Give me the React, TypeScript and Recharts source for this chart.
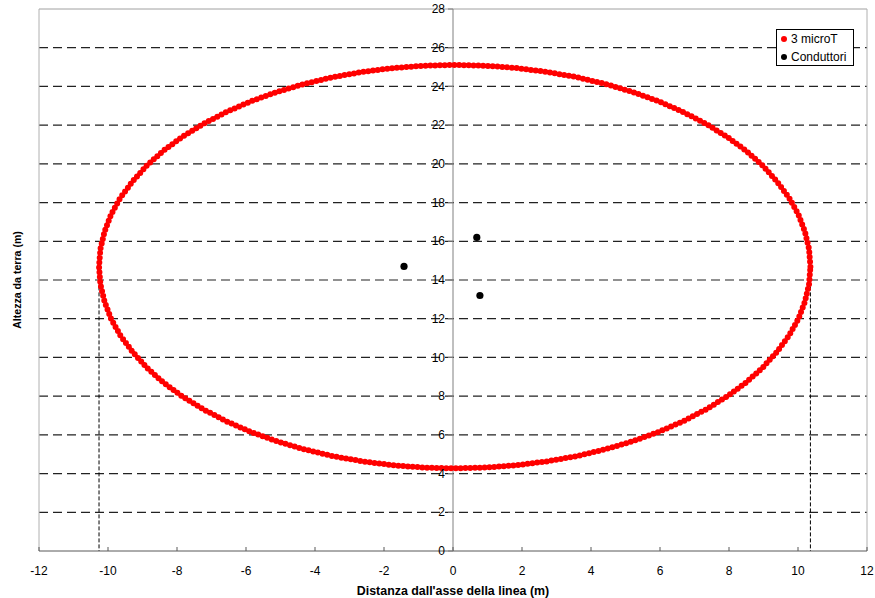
import React from 'react';
import { ScatterChart, Scatter, XAxis, YAxis, ReferenceLine } from 'recharts';

// ---- data ----
const xTicks = [-12, -10, -8, -6, -4, -2, 0, 2, 4, 6, 8, 10, 12];
const yTicks = [0, 2, 4, 6, 8, 10, 12, 14, 16, 18, 20, 22, 24, 26, 28];
const gridYs = [2, 4, 6, 8, 10, 12, 14, 16, 18, 20, 22, 24, 26];

// 3 microT contour (every ~5 degrees around the loop)
const contour3uT = [
  { x: 10.36, y: 14.69 }, { x: 10.32, y: 15.6 }, { x: 10.2, y: 16.5 }, { x: 10.01, y: 17.39 },
  { x: 9.74, y: 18.25 }, { x: 9.39, y: 19.09 }, { x: 8.98, y: 19.9 }, { x: 8.5, y: 20.67 },
  { x: 7.95, y: 21.39 }, { x: 7.34, y: 22.06 }, { x: 6.68, y: 22.67 }, { x: 5.96, y: 23.23 },
  { x: 5.21, y: 23.71 }, { x: 4.41, y: 24.13 }, { x: 3.58, y: 24.48 }, { x: 2.72, y: 24.75 },
  { x: 1.84, y: 24.95 }, { x: 0.95, y: 25.07 }, { x: 0.05, y: 25.11 }, { x: -0.85, y: 25.07 },
  { x: -1.74, y: 24.95 }, { x: -2.62, y: 24.75 }, { x: -3.48, y: 24.48 }, { x: -4.31, y: 24.13 },
  { x: -5.11, y: 23.71 }, { x: -5.86, y: 23.23 }, { x: -6.58, y: 22.67 }, { x: -7.24, y: 22.06 },
  { x: -7.85, y: 21.39 }, { x: -8.4, y: 20.67 }, { x: -8.88, y: 19.9 }, { x: -9.29, y: 19.09 },
  { x: -9.64, y: 18.25 }, { x: -9.91, y: 17.39 }, { x: -10.1, y: 16.5 }, { x: -10.22, y: 15.6 },
  { x: -10.26, y: 14.69 }, { x: -10.22, y: 13.78 }, { x: -10.1, y: 12.88 }, { x: -9.91, y: 11.99 },
  { x: -9.64, y: 11.13 }, { x: -9.29, y: 10.29 }, { x: -8.88, y: 9.48 }, { x: -8.4, y: 8.71 },
  { x: -7.85, y: 7.99 }, { x: -7.24, y: 7.32 }, { x: -6.58, y: 6.71 }, { x: -5.86, y: 6.15 },
  { x: -5.11, y: 5.67 }, { x: -4.31, y: 5.25 }, { x: -3.48, y: 4.9 }, { x: -2.62, y: 4.63 },
  { x: -1.74, y: 4.43 }, { x: -0.85, y: 4.31 }, { x: 0.05, y: 4.27 }, { x: 0.95, y: 4.31 },
  { x: 1.84, y: 4.43 }, { x: 2.72, y: 4.63 }, { x: 3.58, y: 4.9 }, { x: 4.41, y: 5.25 },
  { x: 5.21, y: 5.67 }, { x: 5.96, y: 6.15 }, { x: 6.68, y: 6.71 }, { x: 7.34, y: 7.32 },
  { x: 7.95, y: 7.99 }, { x: 8.5, y: 8.71 }, { x: 8.98, y: 9.48 }, { x: 9.39, y: 10.29 },
  { x: 9.74, y: 11.13 }, { x: 10.01, y: 11.99 }, { x: 10.2, y: 12.88 }, { x: 10.32, y: 13.78 },
  { x: 10.36, y: 14.69 },
];

const conductors = [
  { x: -1.42, y: 14.7 },
  { x: 0.69, y: 16.2 },
  { x: 0.78, y: 13.2 },
];

const leftDrop = [{ x: -10.26, y: 14.6 }, { x: -10.26, y: 0 }];
const rightDrop = [{ x: 10.36, y: 14.6 }, { x: 10.36, y: 0 }];

const legendItems = [
  { name: '3 microT', color: '#ff0000' },
  { name: 'Conduttori', color: '#000000' },
];

// ---- layout ----
const W = 875;
const H = 598;
const MARGIN = { top: 9, right: 8, left: 38, bottom: 0 };
const YAXIS_W = 1;
const XAXIS_H = 47;
const PLOT_LEFT = MARGIN.left + YAXIS_W;
const PLOT_RIGHT = W - MARGIN.right;
const X0 = (PLOT_LEFT + PLOT_RIGHT) / 2;
const AXIS_Y = H - MARGIN.bottom - XAXIS_H;
const FONT = '"Liberation Sans", Arial, sans-serif';

const XTick = (props: any) => {
  const { x, payload } = props;
  return (
    <g>
      <line x1={x} x2={x} y1={AXIS_Y - 4} y2={AXIS_Y} stroke="#595959" />
      <text x={x} y={AXIS_Y + 24} textAnchor="middle" fontSize={12} fill="#000" fontFamily={FONT}>
        {payload.value}
      </text>
    </g>
  );
};

const YTick = (props: any) => {
  const { y, payload } = props;
  return (
    <g>
      <line x1={X0 - 5} x2={X0} y1={y} y2={y} stroke="#808080" />
      <text x={X0 - 8} y={y} dy={4.2} textAnchor="end" fontSize={12} fill="#000" fontFamily={FONT}>
        {payload.value}
      </text>
    </g>
  );
};

const Nothing = () => <g />;

export default function App() {
  return (
    <div style={{ position: 'absolute', left: 0, top: 0, width: W, height: H, background: '#fff', fontFamily: FONT }}>
      <ScatterChart width={W} height={H} margin={MARGIN}>
        <XAxis
          type="number"
          dataKey="x"
          domain={[-12, 12]}
          ticks={xTicks}
          allowDataOverflow
          height={XAXIS_H}
          tickSize={0}
          tickMargin={0}
          tickLine={false}
          axisLine={{ stroke: '#595959', strokeWidth: 1 }}
          tick={<XTick />}
          interval={0}
          label={{
            value: "Distanza dall'asse della linea (m)",
            position: 'insideBottom',
            offset: 3,
            style: { fontSize: 12.4, fontWeight: 'bold', fill: '#000', fontFamily: FONT },
          }}
        />
        <YAxis
          type="number"
          dataKey="y"
          domain={[0, 28]}
          ticks={yTicks}
          allowDataOverflow
          width={YAXIS_W}
          tickSize={0}
          tickMargin={0}
          tickLine={false}
          axisLine={false}
          tick={<YTick />}
          interval={0}
          label={{
            value: 'Altezza da terra (m)',
            angle: -90,
            position: 'left',
            offset: 20.5,
            style: { fontSize: 10.6, fontWeight: 'bold', fill: '#000', textAnchor: 'middle', fontFamily: FONT },
          }}
        />
        {gridYs.map((v) => (
          <ReferenceLine key={'g' + v} y={v} stroke="#222" strokeDasharray="9 5" strokeWidth={1.2} />
        ))}
        <ReferenceLine y={28} stroke="#a0a0a0" strokeWidth={1} />
        <ReferenceLine x={-12} stroke="#b0b0b0" strokeWidth={1} />
        <ReferenceLine x={12} stroke="#b0b0b0" strokeWidth={1} />
        <ReferenceLine x={0} stroke="#808080" strokeWidth={1} />
        <Scatter
          data={leftDrop}
          isAnimationActive={false}
          shape={<Nothing />}
          line={{ stroke: '#000', strokeWidth: 1, strokeDasharray: '4 2' }}
        />
        <Scatter
          data={rightDrop}
          isAnimationActive={false}
          shape={<Nothing />}
          line={{ stroke: '#000', strokeWidth: 1, strokeDasharray: '4 2' }}
        />
        <Scatter
          name="3 microT"
          data={contour3uT}
          isAnimationActive={false}
          shape={<Nothing />}
          line={{ stroke: '#ff0000', strokeWidth: 6, strokeDasharray: '0 4.8', strokeLinecap: 'round' }}
        />
        <Scatter
          name="Conduttori"
          data={conductors}
          isAnimationActive={false}
          shape={(p: any) => <circle cx={p.cx} cy={p.cy} r={3.6} fill="#000" />}
        />
      </ScatterChart>
      <div
        style={{
          position: 'absolute',
          left: 776,
          top: 29,
          width: 76,
          height: 35,
          border: '1px solid #000',
          background: '#fff',
          fontSize: 12,
          color: '#000',
        }}
      >
        {legendItems.map((it) => (
          <div key={it.name} style={{ display: 'flex', alignItems: 'center', height: 17.7, whiteSpace: 'nowrap' }}>
            <span
              style={{
                display: 'inline-block',
                width: 6,
                height: 6,
                borderRadius: '50%',
                background: it.color,
                marginLeft: 4,
                marginRight: 4,
              }}
            />
            <span>{it.name}</span>
          </div>
        ))}
      </div>
    </div>
  );
}
